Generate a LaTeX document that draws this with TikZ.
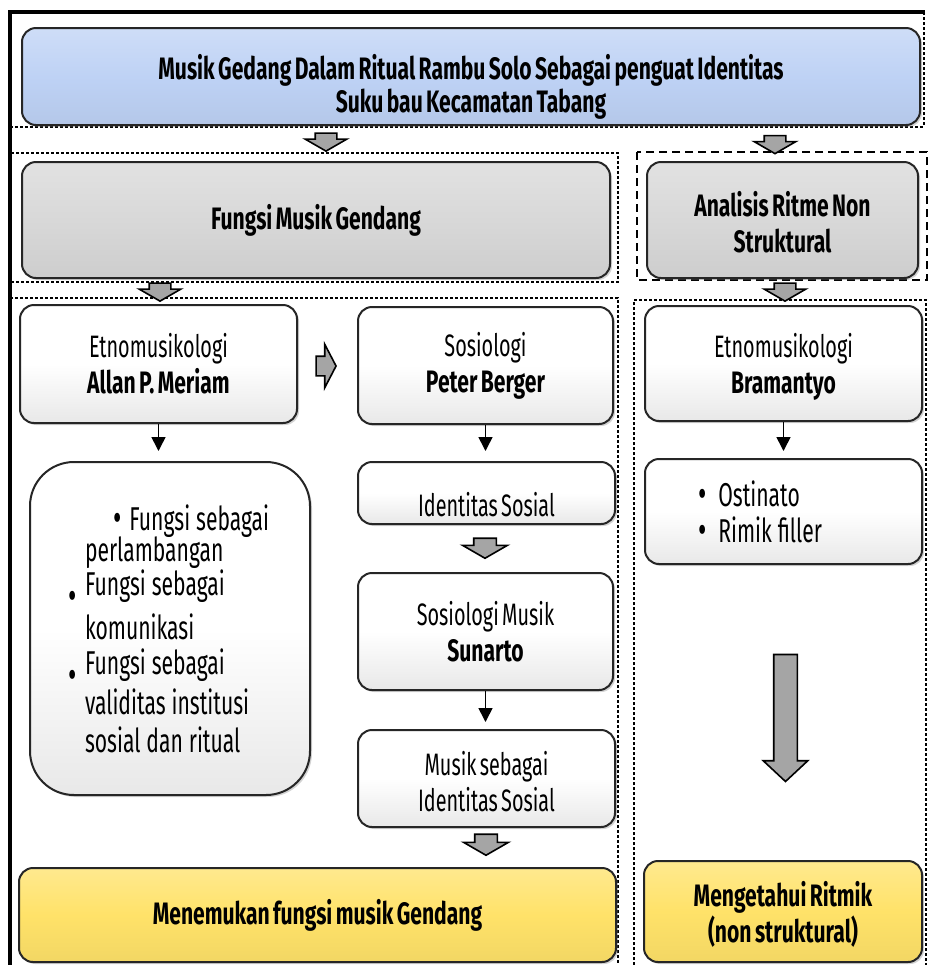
\documentclass[tikz,border=0pt]{standalone}
\usepackage{fontspec}
\setmainfont{Fira Sans}[FakeStretch=0.64, WordSpace=0.64,
  BoldFeatures={FakeStretch=0.68, WordSpace=0.68}]
\usetikzlibrary{arrows.meta, shapes.arrows, shadows}
\definecolor{hdrblue}{RGB}{190,210,245}
\definecolor{hdrgrey}{RGB}{216,216,216}
\definecolor{resyellow}{RGB}{255,226,105}
\definecolor{blkgrey}{RGB}{165,165,165}
\newcommand{\bigbul}{{\fontsize{20}{19}\selectfont\textbullet}}

\begin{document}
\begin{tikzpicture}[
  x=0.5pt, y=-0.5pt,
  every node/.style={font=\fontsize{15.5}{18}\selectfont},
  box/.style={draw=black!85, line width=1pt, rounded corners=7pt, inner sep=2pt,
    align=center, drop shadow={shadow xshift=1pt, shadow yshift=-1pt, opacity=0.35}},
  wbox/.style={box, top color=white, bottom color=black!9, middle color=white},
  bluebox/.style={box, top color=hdrblue!75!white, bottom color=hdrblue!95!black, middle color=hdrblue},
  greybox/.style={box, top color=hdrgrey!75!white, bottom color=hdrgrey!95!black, middle color=hdrgrey},
  yelbox/.style={box, top color=resyellow!75!white, bottom color=resyellow!95!black, middle color=resyellow},
  blk/.style={single arrow, draw=black, line width=0.8pt, fill=blkgrey, inner sep=0pt,
    text width=0pt, text depth=0pt},
  blkdown/.style={blk, rotate=-90, single arrow tip angle=120, text height=10pt,
    minimum height=9pt, single arrow head extend=5pt},
  arr/.style={-{Triangle[length=7pt,width=7pt]}, line width=0.8pt, shorten >=5pt},
  frame/.style={line width=0.6pt, dash pattern=on 1.5pt off 1pt}
]
  \useasboundingbox (0,0) rectangle (929,965);

  % outer frame and section frames
  \draw[line width=1.6pt] (925,12) -- (10,12) -- (10,965);
  \draw[frame] (10,127) -- (925,127);
  \draw[frame] (924,12) -- (924,127);
  \draw[frame] (10,153) rectangle (618,282);
  \draw[line width=1pt, dash pattern=on 4pt off 2.5pt] (637,152) rectangle (927,280);
  \draw[frame] (10,298) -- (618,298) -- (618,970);
  \draw[frame] (634,970) -- (634,300) -- (926,300) -- (926,970);

  % boxes
  \node[bluebox, minimum width=449pt, minimum height=48.5pt, font=\fontsize{15.5}{16.5}\selectfont]
    (judul) at (471,76.5)
    {\rule{0pt}{23pt}\bfseries Musik Gedang Dalam Ritual Rambu Solo Sebagai penguat Identitas\\
     \bfseries Suku bau Kecamatan Tabang};
  \node[greybox, minimum width=294pt, minimum height=58pt] (fmg) at (316,220)
    {\bfseries Fungsi Musik Gendang};
  \node[greybox, minimum width=135.5pt, minimum height=58pt] (arn) at (782.5,220)
    {\rule{0pt}{15pt}\bfseries Analisis Ritme Non\\ \bfseries Struktural};

  \node[wbox, minimum width=138.5pt, minimum height=59pt] (etno) at (158.5,364)
    {Etnomusikologi\\ \textbf{Allan P. Meriam}};
  \node[wbox, minimum width=127.5pt, minimum height=58.5pt] (sosio) at (485.5,365.5)
    {Sosiologi\\ \textbf{Peter Berger}};
  \node[wbox, rounded corners=22pt, minimum width=140pt, minimum height=166.5pt,
        text width=85pt, align=left, font=\fontsize{16.5}{19}\selectfont] (dfung) at (170,628.5)
    {\spaceskip=0.18em\relax
     \mbox{\hspace*{14pt}\smash{\raisebox{-0.5pt}{\bigbul}}\hspace{4pt}Fungsi sebagai}\\[-3.5pt]
     perlambangan\\[-2pt]
     \leavevmode\llap{\smash{\raisebox{-7pt}{\bigbul}}\hspace{4pt}}Fungsi sebagai\\[3pt]
     komunikasi\\[-1.5pt]
     \leavevmode\llap{\smash{\raisebox{-7pt}{\bigbul}}\hspace{4pt}}Fungsi sebagai\\[1pt]
     \mbox{validitas institusi}\\
     \mbox{sosial dan ritual}};
  \node[wbox, minimum width=128.5pt, minimum height=30pt, text height=25pt, text depth=2pt]
    (idsos) at (486.5,493) {Identitas Sosial};
  \node[wbox, minimum width=127.5pt, minimum height=58.5pt] (sosmus) at (485.5,631.5)
    {Sosiologi Musik\\ \textbf{Sunarto}};
  \node[wbox, minimum width=128.5pt, minimum height=48.5pt] (musid) at (486.5,778.5)
    {\rule{0pt}{15pt}Musik sebagai\\ Identitas Sosial};
  \node[yelbox, minimum width=298.5pt, minimum height=47pt] (hasil1) at (317.5,915)
    {\bfseries Menemukan fungsi musik Gendang};

  \node[wbox, minimum width=138.5pt, minimum height=57.5pt] (bram) at (783.5,363.5)
    {\rule{0pt}{15pt}Etnomusikologi\\ \textbf{Bramantyo}};
  \node[wbox, minimum width=138.5pt, minimum height=52.5pt, text width=85.5pt, align=left,
        font=\fontsize{16.5}{18}\selectfont] (rimik) at (783.5,511.5)
    {\spaceskip=0.18em\relax
     \smash{\raisebox{-0.5pt}{\bigbul}}\hspace{6pt}Ostinato\\
     \smash{\raisebox{-0.5pt}{\bigbul}}\hspace{6pt}Rimik filler};
  \node[yelbox, minimum width=139pt, minimum height=50.5pt] (hasil2) at (783,911.5)
    {\rule{0pt}{15pt}\bfseries Mengetahui Ritmik\\ \bfseries (non struktural)};

  % block arrows
  \node[blkdown] (b1) at (326,139) {};
  \node[blkdown] (b2) at (775,141.5) {};
  \node[blkdown] (b3) at (160,289) {};
  \node[blkdown] (b4) at (785,289) {};
  \node[blk, single arrow tip angle=125, text height=9pt, minimum height=10pt,
        single arrow head extend=6pt] (b5) at (323.5,366) {};
  \node[blkdown, text height=10.5pt, minimum height=10pt, single arrow head extend=5.5pt]
    (b6) at (485,545) {};
  \node[blkdown, text height=10.5pt, minimum height=10.5pt, single arrow head extend=5.5pt]
    (b7) at (486,841.5) {};
  \node[blkdown, single arrow tip angle=94, text height=11pt, minimum height=63.5pt,
        single arrow head extend=5.25pt] (b8) at (785.5,712.5) {};

  % connectors
  \draw[arr] (etno.south) -- (etno.south |- dfung.north);
  \draw[arr] (sosio.south) -- (sosio.south |- idsos.north);
  \draw[arr, shorten >=3.5pt] (sosmus.south) -- (sosmus.south |- musid.north);
  \draw[arr, shorten >=3.5pt] (bram.south) -- (bram.south |- rimik.north);
\end{tikzpicture}
\end{document}
